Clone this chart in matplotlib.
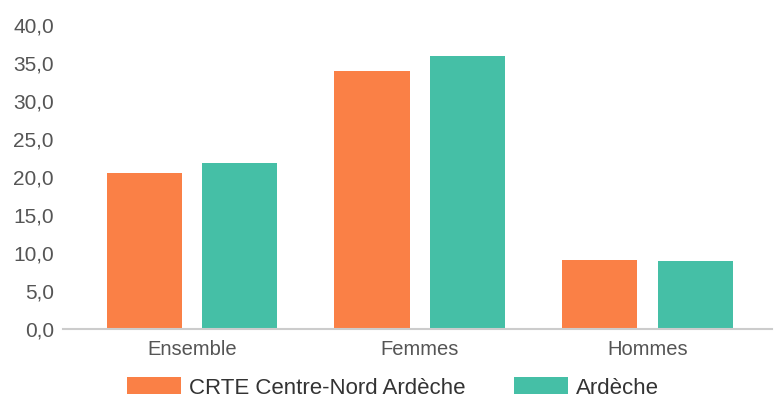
import matplotlib
matplotlib.use("Agg")
import matplotlib.pyplot as plt
import numpy as np

categories = ["Ensemble", "Femmes", "Hommes"]
crte_values = [20.5, 33.9, 9.1]
ardeche_values = [21.8, 35.9, 8.9]
series_names = ["CRTE Centre-Nord Ardèche", "Ardèche"]
y_ticks = [0, 5, 10, 15, 20, 25, 30, 35, 40]

plt.rcParams["font.family"] = ["Liberation Sans", "DejaVu Sans"]

fig = plt.figure(figsize=(7.74, 3.98), dpi=100)
ax = fig.add_axes([0.0814, 0.1734, 0.9156, 0.7636])

x = np.arange(len(categories))
width = 0.33
offset = 0.21

b1 = ax.bar(x - offset, crte_values, width, color="#FA8046", label=series_names[0])
b2 = ax.bar(x + offset, ardeche_values, width, color="#45BFA6", label=series_names[1])

ax.set_xlim(-0.566, 2.544)
ax.set_ylim(0, 40)
ax.set_yticks(y_ticks)
ax.set_yticklabels([f"{v:.1f}".replace(".", ",") for v in y_ticks])
ax.set_xticks(x)
ax.set_xticklabels(categories)

for s in ["top", "right", "left"]:
    ax.spines[s].set_visible(False)
ax.spines["bottom"].set_color("#cccccc")
ax.spines["bottom"].set_linewidth(1.5)

ax.tick_params(axis="y", length=0, pad=6.5, labelsize=15, labelcolor="#555555")
ax.tick_params(axis="x", length=0, pad=8, labelsize=14.5, labelcolor="#555555")

fig.legend(
    handles=[b1, b2],
    loc="center",
    bbox_to_anchor=(393 / 774, 1 - 388 / 398),
    ncol=2,
    frameon=False,
    fontsize=16,
    handlelength=2.4,
    handleheight=0.77,
    handletextpad=0.36,
    columnspacing=2.2,
    borderpad=0,
    labelcolor="#333333",
)

fig.savefig("out.png", dpi=100)
